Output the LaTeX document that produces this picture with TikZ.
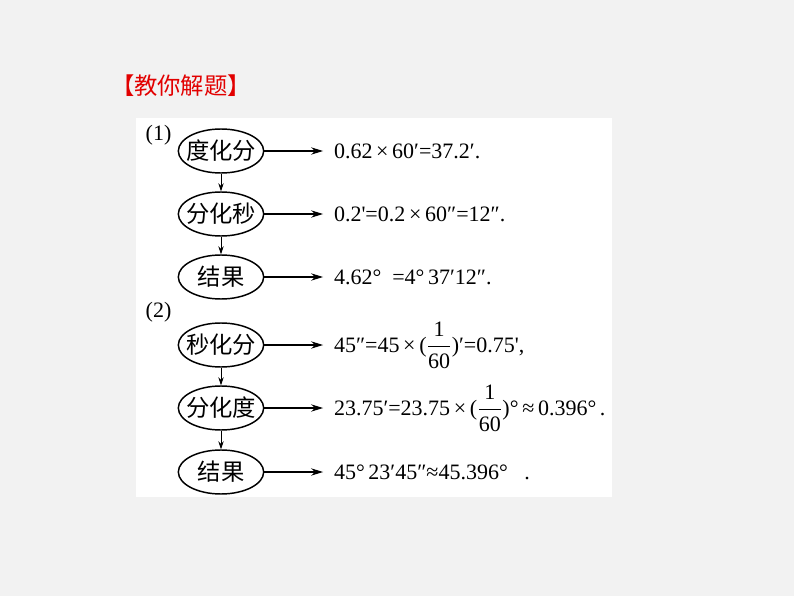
\documentclass[tikz,border=0pt]{standalone}
\usepackage{amsmath}
\usepackage{textcomp}
\usepackage{fontspec}
\setmainfont{Liberation Serif}
\newfontfamily\cjk{Noto Sans CJK SC}
\usepackage{tikz}
\usetikzlibrary{arrows.meta,shapes.geometric}
\usetikzlibrary{positioning}
\definecolor{pagegray}{RGB}{242,242,242}
\definecolor{titlered}{RGB}{226,0,0}
\tikzset{
    oval/.style={
           ellipse,
           draw=black, line width=1.1pt,
           minimum width=64pt,
           minimum height=33pt,
           inner sep=0pt,
           font=\cjk\fontsize{17.5pt}{20pt}\selectfont,
           },
    working/.style={
           inner xsep=8pt, inner ysep=0pt,
           text height=11pt, text depth=0pt,
           font=\fontsize{16.5pt}{20pt}\selectfont,
           },
    part/.style={
           inner sep=0pt,
           font=\fontsize{16.5pt}{20pt}\selectfont,
           },
}
\newcommand{\sixtieth}{$\dfrac{\text{1}}{\text{60}}$}

\begin{document}
\begin{tikzpicture}[x=0.75pt,y=-0.75pt,->,>={Stealth[length=9pt,width=5.5pt]}]
 % page and white panel
 \fill[pagegray] (0,0) rectangle (794,596);
 \fill[white] (136,118) rectangle (612,497);
 \node[text=titlered,inner sep=0pt,
 font=\cjk\fontsize{17.5pt}{20pt}\selectfont] (title) at (181,86) {【教你解题】};

 % part (1)
 \node[oval] (D1) at (221,151) {\makebox[0pt]{度化分}};
 \node[oval,
 below of=D1,
 node distance=47.25pt] (M1) {\makebox[0pt]{分化秒}};
 \node[oval,
 below of=M1,
 node distance=47.25pt] (R1) {\makebox[0pt]{结果}};
 % part (2)
 \node[oval,
 below of=R1,
 node distance=51pt] (S2) {\makebox[0pt]{秒化分}};
 \node[oval,
 below of=S2,
 node distance=47.25pt] (M2) {\makebox[0pt]{分化度}};
 \node[oval,
 below of=M2,
 node distance=48pt] (R2) {\makebox[0pt]{结果}};

 \node[part, left=14pt of D1.north west] (P1) {(1)};
 \node[part, above left=5pt and 14pt of S2.north west] (P2) {(2)};

 % the workings on the right
 \node[working, right=44pt of D1] (D1t) {0.62\,×\,60′=37.2′.};
 \node[working, right=44pt of M1] (M1t) {0.2\textquotesingle=0.2\,×\,60″=12″.};
 \node[working, right=44pt of R1] (R1t) {4.62°\ \ =4°\,37′12″.};
 \node[working, right=44pt of S2] (S2t) {45″=45\,×\,(\sixtieth)′=0.75\textquotesingle,};
 \node[working, right=44pt of M2] (M2t) {23.75′=23.75\,×\,(\sixtieth)°\,≈\,0.396°\,.};
 \node[working, right=44pt of R2] (R2t) {45°\,23′45″≈45.396°\ \ \ .};

 % draw the paths
\path[line width=0.8pt]
  (D1) edge (D1t)
  (M1) edge (M1t)
  (R1) edge (R1t)
  (S2) edge (S2t)
  (M2) edge (M2t)
  (R2) edge (R2t);
\path[line width=0.7pt,>={Stealth[length=6pt,width=4pt]}]
  (D1) edge (M1)
  (M1) edge (R1)
  (S2) edge (M2)
  (M2) edge (R2);
\end{tikzpicture}
\end{document}
